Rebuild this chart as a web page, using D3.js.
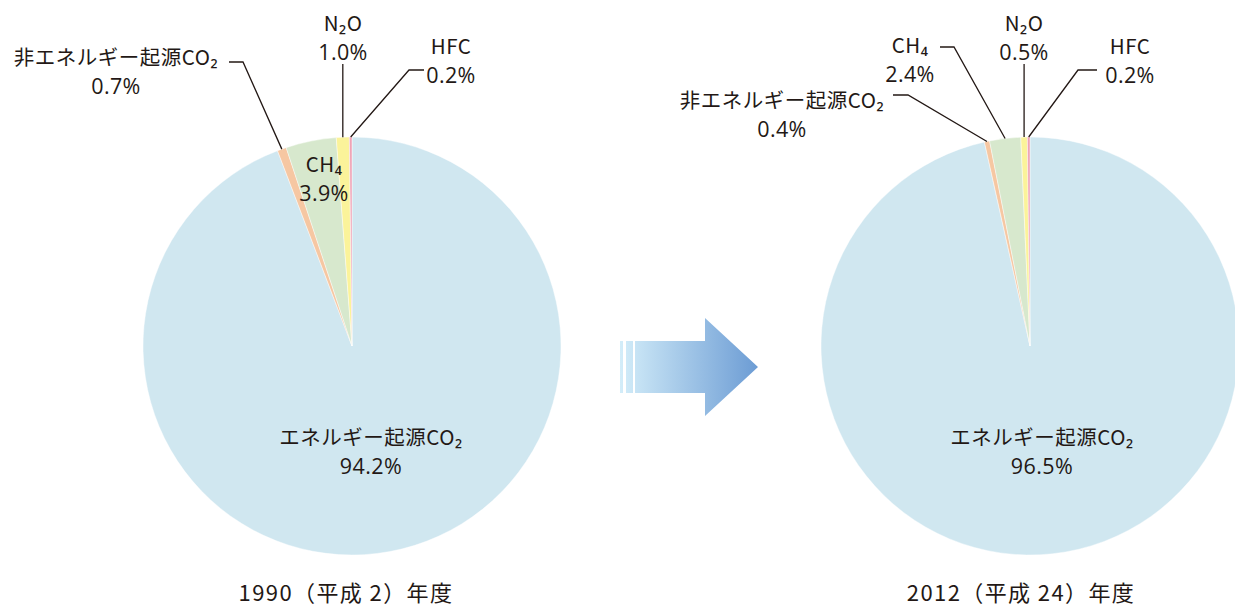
<!DOCTYPE html>
<html lang="ja">
<head>
<meta charset="utf-8">
<script src="https://cdn.jsdelivr.net/npm/d3@7"></script>
<style>
  html, body { margin: 0; padding: 0; background: #fff; }
  svg { display: block; }
  text { font-family: "Noto Sans CJK JP", "Noto Sans", sans-serif; fill: #231815; }
  .pct { font-family: "Open Sans", "Noto Sans", sans-serif; }
</style>
</head>
<body>
<svg id="chart" width="1235" height="610"></svg>
<script>
// Greenhouse gas emission shares (%), by gas
const gases = ["エネルギー起源CO₂", "非エネルギー起源CO₂", "CH₄", "N₂O", "HFC"];
const share1990 = [94.2, 0.7, 3.9, 1.0, 0.2];
const share2012 = [96.5, 0.4, 2.4, 0.5, 0.2];
const yearLabels = ["1990（平成 2）年度", "2012（平成 24）年度"];
const sliceColors = ["#d0e7f0", "#f6c7a2", "#d7e8cd", "#fbf39a", "#efa3b5"];

const svg = d3.select("#chart");
const R = 209;

// Label placement for each pie: text centre / first baseline and leader elbows
const layouts = [
  {
    cx: 352, cy: 346, yearX: 346,
    labels: {
      "エネルギー起源CO₂": { x: 371, y: 445 },
      "非エネルギー起源CO₂": { x: 116, y: 65, leader: [[229, 62], [243, 62]] },
      "CH₄": { x: 324, y: 172 },
      "N₂O": { x: 343, y: 31, leader: "vertical", top: 64 },
      "HFC": { x: 451, y: 54, leader: [[424, 70], [409, 70]] }
    }
  },
  {
    cx: 1030, cy: 346, yearX: 1021,
    labels: {
      "エネルギー起源CO₂": { x: 1042, y: 445 },
      "非エネルギー起源CO₂": { x: 782, y: 108, leader: [[893, 95], [908, 95]] },
      "CH₄": { x: 910, y: 53, leader: [[940, 47], [954, 47]] },
      "N₂O": { x: 1024, y: 31, leader: "vertical", top: 64 },
      "HFC": { x: 1130, y: 54, leader: [[1097, 70], [1078, 70]] }
    }
  }
];

const pie = d3.pie().sort(null).value(d => d.value);
const arc = d3.arc().innerRadius(0).outerRadius(R);

[share1990, share2012].forEach((shares, k) => {
  const L = layouts[k];
  const data = gases.map((g, i) => ({ gas: g, value: shares[i], color: sliceColors[i] }));
  const arcs = pie(data);
  const g = svg.append("g").attr("transform", `translate(${L.cx},${L.cy})`);

  g.selectAll("path.slice")
    .data(arcs)
    .join("path")
    .attr("class", "slice")
    .attr("d", arc)
    .attr("fill", d => d.data.color)
    .attr("stroke", "rgba(255,255,255,0.55)")
    .attr("stroke-width", 0.8);

  // labels and leader lines
  arcs.forEach(a => {
    const cfg = L.labels[a.data.gas];
    const mid = (a.startAngle + a.endAngle) / 2;
    const px = L.cx + R * Math.sin(mid);
    const py = L.cy - R * Math.cos(mid);

    if (cfg.leader === "vertical") {
      svg.append("line")
        .attr("x1", px).attr("x2", px)
        .attr("y1", cfg.top).attr("y2", py)
        .attr("stroke", "#231815").attr("stroke-width", 1.3);
    } else if (cfg.leader) {
      const pts = cfg.leader.concat([[px, py]]);
      svg.append("path")
        .attr("d", d3.line()(pts))
        .attr("fill", "none")
        .attr("stroke", "#231815").attr("stroke-width", 1.3);
    }

    svg.append("text")
      .attr("x", cfg.x).attr("y", cfg.y)
      .attr("text-anchor", "middle")
      .attr("font-size", 20.5)
      .attr("letter-spacing", 0.5)
      .text(a.data.gas);
    svg.append("text")
      .attr("class", "pct")
      .attr("x", cfg.x).attr("y", cfg.y + 29)
      .attr("text-anchor", "middle")
      .attr("font-size", 21.5)
      .attr("letter-spacing", 0.4)
      .text(d3.format(".1f")(a.data.value) + "%");
  });

  svg.append("text")
    .attr("x", L.yearX).attr("y", 601)
    .attr("text-anchor", "middle")
    .attr("font-size", 22)
    .attr("letter-spacing", 1.4)
    .text(yearLabels[k]);
});

// Arrow between the two pies
const defs = svg.append("defs");
const grad = defs.append("linearGradient")
  .attr("id", "arrowGrad")
  .attr("gradientUnits", "userSpaceOnUse")
  .attr("x1", 620).attr("x2", 758).attr("y1", 0).attr("y2", 0);
grad.append("stop").attr("offset", 0).attr("stop-color", "#d3edf9");
grad.append("stop").attr("offset", 1).attr("stop-color", "#6c9cd4");

const arrow = svg.append("g").attr("fill", "url(#arrowGrad)");
arrow.append("rect").attr("x", 620).attr("y", 341).attr("width", 3).attr("height", 52);
arrow.append("rect").attr("x", 626).attr("y", 341).attr("width", 7).attr("height", 52);
arrow.append("path")
  .attr("d", "M635,341 L705,341 L705,318 L758,367 L705,416 L705,393 L635,393 Z");
</script>
</body>
</html>
